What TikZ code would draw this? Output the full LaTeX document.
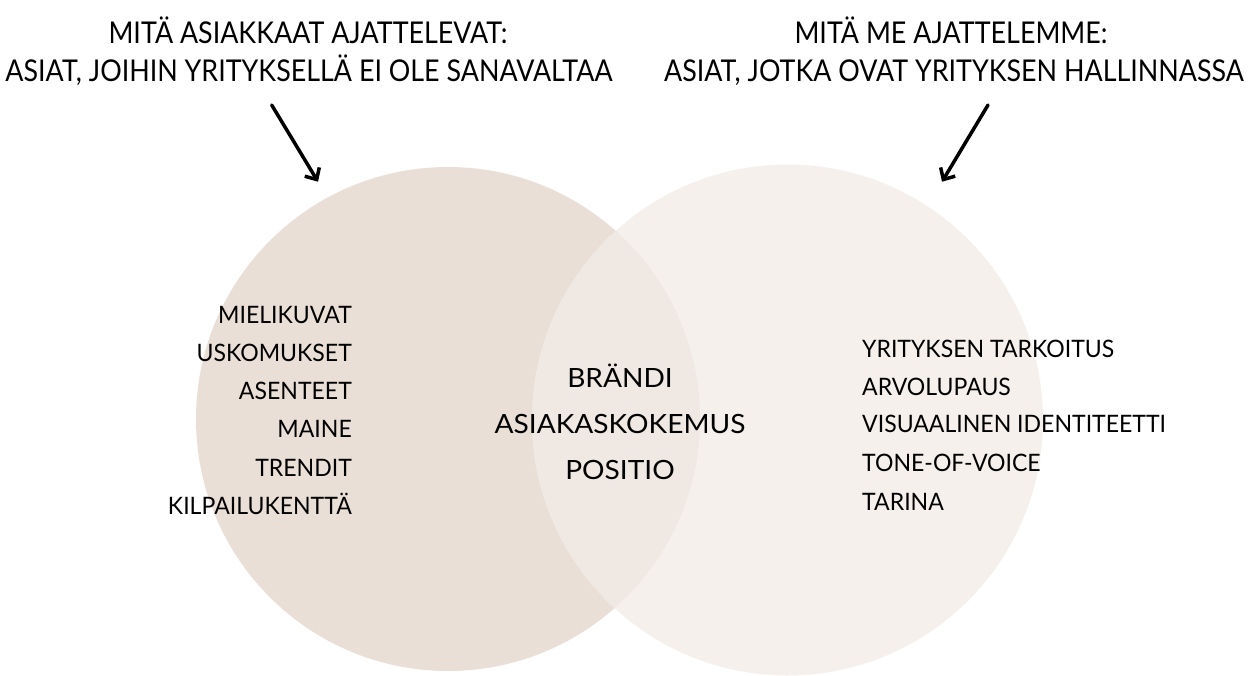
\documentclass[tikz,border=0pt]{standalone}
\usepackage{fontspec}
\setmainfont{Lato}
\newfontfamily\otsikkofont[FakeStretch=0.895]{Lato}
\newfontfamily\listafont[FakeStretch=0.96]{Lato}
\newfontfamily\keskifont[FakeStretch=1.06]{Lato}
\usetikzlibrary{arrows.meta}

\definecolor{asiakasfill}{RGB}{234,223,214}
\definecolor{yritysfill}{RGB}{245,240,236}
\definecolor{yhteinenfill}{RGB}{240,233,227}

\begin{document}
\begin{tikzpicture}[x=1pt,y=-1pt,
  otsikko/.style={inner sep=0pt,font=\otsikkofont\fontsize{30}{36}\selectfont},
  listateksti/.style={inner sep=0pt,font=\listafont\fontsize{24}{29}\selectfont},
  keskiteksti/.style={inner sep=0pt,font=\keskifont\fontsize{26.5}{32}\selectfont},
  nuoli/.style={line width=3.5pt,line cap=round,-{Straight Barb[length=9pt,width=17pt,line width=3.5pt]}}]
      \path[use as bounding box] (0,0) rectangle (1248,675);

      %Shape: Circle [left]
      \fill[asiakasfill] (448,419) circle (252);
      %Shape: Circle [right]
      \fill[yritysfill] (787.5,420) circle (255.5);
      %Shape: Overlap
      \begin{scope}
        \clip (448,419) circle (252);
        \fill[yhteinenfill] (787.5,420) circle (255.5);
      \end{scope}

      % Text Node
      \node[otsikko,anchor=base] (otsA1) at (308,43.8) {MITÄ ASIAKKAAT AJATTELEVAT:};
      % Text Node
      \node[otsikko,anchor=base] (otsA2) at (309,81.6) {ASIAT, JOIHIN YRITYKSELLÄ EI OLE SANAVALTAA};
      % Text Node
      \node[otsikko,anchor=base] (otsB1) at (951,43.8) {MITÄ ME AJATTELEMME:};
      % Text Node
      \node[otsikko,anchor=base] (otsB2) at (954,81.6) {ASIAT, JOTKA OVAT YRITYKSEN HALLINNASSA};

      % Arrows
      \coordinate (nuoliA) at (271.7,105);
      \coordinate (kohdeA) at (318,181.7);
      \coordinate (nuoliB) at (988,105);
      \coordinate (kohdeB) at (942,181.7);
      \draw[nuoli] (nuoliA) -- (kohdeA);
      \draw[nuoli] (nuoliB) -- (kohdeB);

      % Text Node
      \node[listateksti,anchor=base east] (mielikuvat) at (352,323.3) {MIELIKUVAT};
      % Text Node
      \node[listateksti,anchor=base east] (uskomukset) at (352,361.5) {USKOMUKSET};
      % Text Node
      \node[listateksti,anchor=base east] (asenteet) at (352,399.6) {ASENTEET};
      % Text Node
      \node[listateksti,anchor=base east] (maine) at (352,437.8) {MAINE};
      % Text Node
      \node[listateksti,anchor=base east] (trendit) at (352,476) {TRENDIT};
      % Text Node
      \node[listateksti,anchor=base east] (kilpailu) at (352,514.3) {KILPAILUKENTTÄ};

      % Text Node
      \node[keskiteksti,anchor=base] (brandi) at (620,387.3) {BRÄNDI};
      % Text Node
      \node[keskiteksti,anchor=base] (kokemus) at (620,433.3) {ASIAKASKOKEMUS};
      % Text Node
      \node[keskiteksti,anchor=base] (positio) at (620,479.3) {POSITIO};

      % Text Node
      \node[listateksti,anchor=base west] (tarkoitus) at (862,357.3) {YRITYKSEN TARKOITUS};
      % Text Node
      \node[listateksti,anchor=base west] (arvolupaus) at (862,395) {ARVOLUPAUS};
      % Text Node
      \node[listateksti,anchor=base west] (identiteetti) at (862,432.9) {VISUAALINEN IDENTITEETTI};
      % Text Node
      \node[listateksti,anchor=base west] (tone) at (862,471.5) {TONE-OF-VOICE};
      % Text Node
      \node[listateksti,anchor=base west] (tarina) at (862,510) {TARINA};

\end{tikzpicture}
\end{document}
